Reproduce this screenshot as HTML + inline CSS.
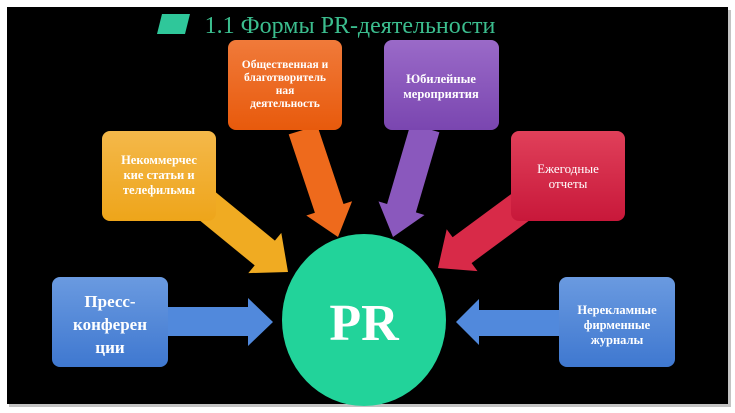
<!DOCTYPE html>
<html><head><meta charset="utf-8"><style>
html,body{margin:0;padding:0;background:#fff;}
svg{display:block;}
text{font-family:"Liberation Serif","DejaVu Serif",serif;font-weight:bold;fill:#fff;text-anchor:middle;}
</style></head><body>
<svg width="735" height="413" viewBox="0 0 735 413" xmlns="http://www.w3.org/2000/svg">
<defs>
<linearGradient id="gO" x1="0" y1="0" x2="0" y2="1"><stop offset="0" stop-color="#f07a3a"/><stop offset="1" stop-color="#e85a0c"/></linearGradient>
<linearGradient id="gP" x1="0" y1="0" x2="0" y2="1"><stop offset="0" stop-color="#9a6ac8"/><stop offset="1" stop-color="#7a46b0"/></linearGradient>
<linearGradient id="gY" x1="0" y1="0" x2="0" y2="1"><stop offset="0" stop-color="#f4b84a"/><stop offset="1" stop-color="#eea51a"/></linearGradient>
<linearGradient id="gR" x1="0" y1="0" x2="0" y2="1"><stop offset="0" stop-color="#e0405a"/><stop offset="1" stop-color="#c8183a"/></linearGradient>
<linearGradient id="gB" x1="0" y1="0" x2="0" y2="1"><stop offset="0" stop-color="#6a9ae0"/><stop offset="1" stop-color="#3f78d0"/></linearGradient>
</defs>
<rect x="0" y="0" width="735" height="413" fill="#fff"/>
<rect x="9" y="10" width="722" height="397" fill="#888" opacity="0.5"/>
<rect x="7" y="7" width="721" height="397" fill="#000"/>
<!-- title -->
<polygon points="162,14 190,14 185,34 157,34" fill="#2fc79a"/>
<text x="350" y="33" style="font-size:24px;font-weight:normal;fill:#3bbd8e">1.1 Формы PR-деятельности</text>
<!-- arrows -->
<polygon points="288.7,134.4 314.9,212.8 306.3,215.5 338,237 352.1,201.3 343.5,204 317.3,125.6" fill="#ee6a1c"/>
<polygon points="410.6,123.8 387.1,204 378.5,201.4 393,237 424.5,215 415.9,212.4 439.4,132.2" fill="#8a58bd"/>
<polygon points="189.9,212.4 254.7,265.4 248.3,273.1 288,272 281.3,232.9 274.9,240.6 210.1,187.6" fill="#f0ab22"/>
<polygon points="520.5,187.1 452.6,237.3 446.7,229.3 438,268 477.5,271.1 471.6,263.1 539.5,212.9" fill="#d82a48"/>
<polygon points="165,307 248,307 248,298 273,322 248,346 248,336 165,336" fill="#5189dc"/>
<polygon points="562,310 479,310 479,299 456,322 479,345 479,336 562,336" fill="#5189dc"/>
<!-- circle -->
<ellipse cx="364" cy="320" rx="82" ry="86" fill="#22d39a"/>
<text x="364" y="340" style="font-size:52px">PR</text>
<!-- boxes -->
<rect x="228" y="40" width="114" height="90" rx="8" fill="url(#gO)"/>
<text style="font-size:11.5px"><tspan x="285" y="68">Общественная и</tspan><tspan x="285" y="81">благотворитель</tspan><tspan x="285" y="94">ная</tspan><tspan x="285" y="107">деятельность</tspan></text>
<rect x="384" y="40" width="115" height="90" rx="8" fill="url(#gP)"/>
<text style="font-size:12.5px"><tspan x="441" y="83">Юбилейные</tspan><tspan x="441" y="98">мероприятия</tspan></text>
<rect x="102" y="131" width="114" height="90" rx="8" fill="url(#gY)"/>
<text style="font-size:12.5px"><tspan x="159" y="164">Некоммерчес</tspan><tspan x="159" y="179">кие статьи и</tspan><tspan x="159" y="194">телефильмы</tspan></text>
<rect x="511" y="131" width="114" height="90" rx="8" fill="url(#gR)"/>
<text style="font-size:13px;font-weight:normal"><tspan x="568" y="173">Ежегодные</tspan><tspan x="568" y="188">отчеты</tspan></text>
<rect x="52" y="277" width="116" height="90" rx="8" fill="url(#gB)"/>
<text style="font-size:17px"><tspan x="110" y="307">Пресс-</tspan><tspan x="110" y="330">конферен</tspan><tspan x="110" y="353">ции</tspan></text>
<rect x="559" y="277" width="116" height="90" rx="8" fill="url(#gB)"/>
<text style="font-size:12.5px"><tspan x="617" y="314">Нерекламные</tspan><tspan x="617" y="329">фирменные</tspan><tspan x="617" y="344">журналы</tspan></text>
</svg>
</body></html>
